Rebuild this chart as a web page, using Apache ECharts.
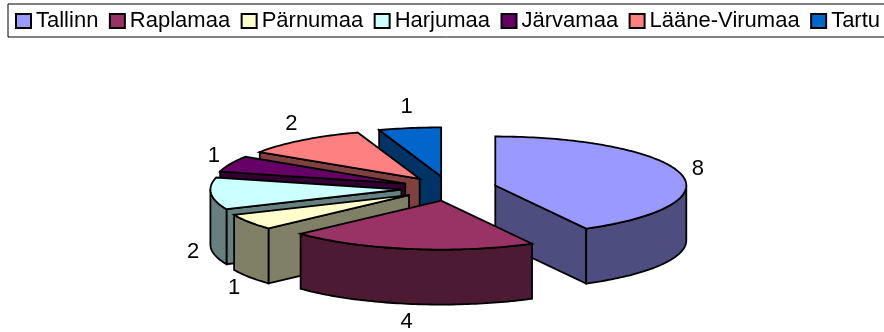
<!DOCTYPE html>
<html>
<head>
<meta charset="utf-8">
<style>
html, body { margin: 0; padding: 0; background: #fff; }
#main { width: 884px; height: 332px; }
</style>
<script src="https://cdn.jsdelivr.net/npm/echarts@6/dist/echarts.min.js"></script>
</head>
<body>
<div id="main"></div>
<script>
var categories = ['Tallinn', 'Raplamaa', 'Pärnumaa', 'Harjumaa', 'Järvamaa', 'Lääne-Virumaa', 'Tartu'];
var values = [8, 4, 1, 2, 1, 2, 1];
var topColors = ['#9999ff', '#993366', '#ffffcc', '#ccffff', '#660066', '#ff8080', '#0066cc'];
var wallColors = ['#4d4d80', '#4d1a33', '#808066', '#668080', '#330033', '#804040', '#003366'];

// tilted pie: ellipse radii, wall height and how far slices are pulled out
var cx = 449, cy = 188.5, rx = 191, ry = 49, depth = 55, explode = 0.25;
var labelRx = 209, labelRyBack = 72, labelRyFront = 66;
var font = '"Liberation Sans", Arial, sans-serif';

var total = values.reduce(function (a, b) { return a + b; }, 0);
var slices = [];
var sum = 0;
values.forEach(function (v) {
    var start = sum / total * Math.PI * 2;
    sum += v;
    var end = sum / total * Math.PI * 2;
    var mid = (start + end) / 2;
    slices.push({
        start: start,
        end: end,
        mid: mid,
        x: cx + Math.sin(mid) * rx * explode,
        y: cy - Math.cos(mid) * ry * explode
    });
});

// back slices get painted first
var order = slices.map(function (s, i) { return i; }).sort(function (a, b) {
    return slices[a].y - slices[b].y;
});

function rimPoint(s, angle, drop) {
    return [s.x + Math.sin(angle) * rx, s.y - Math.cos(angle) * ry + (drop || 0)];
}

function arcPoints(s, from, to, drop) {
    var pts = [];
    var steps = Math.max(2, Math.ceil((to - from) / 0.02));
    for (var i = 0; i <= steps; i++) {
        pts.push(rimPoint(s, from + (to - from) * i / steps, drop));
    }
    return pts;
}

function poly(points, fill) {
    return {
        type: 'polygon',
        shape: { points: points },
        style: { fill: fill, stroke: '#000', lineWidth: 1.8, lineJoin: 'miter' },
        silent: true
    };
}

function radialWall(s, angle, fill) {
    var p = rimPoint(s, angle);
    return poly([[s.x, s.y], p, [p[0], p[1] + depth], [s.x, s.y + depth]], fill);
}

function renderSlice(i, params, api) {
    var s = slices[i];
    var kids = [];
    // cut faces, only those turned to the viewer
    if (Math.sin(s.start) < -0.001) kids.push(radialWall(s, s.start, wallColors[i]));
    if (Math.sin(s.end) > 0.001) kids.push(radialWall(s, s.end, wallColors[i]));
    // outer wall, front half of the ellipse only
    var from = Math.max(s.start, Math.PI / 2);
    var to = Math.min(s.end, Math.PI * 1.5);
    if (to > from) {
        var upper = arcPoints(s, from, to, 0);
        var lower = arcPoints(s, from, to, depth).reverse();
        kids.push(poly(upper.concat(lower), wallColors[i]));
    }
    // top face
    kids.push(poly([[s.x, s.y]].concat(arcPoints(s, s.start, s.end, 0)), topColors[i]));
    // value label, pushed under the wall on the front half
    var front = Math.cos(s.mid) < 0;
    kids.push({
        type: 'text',
        silent: true,
        z2: 100,
        style: {
            x: s.x + Math.sin(s.mid) * labelRx,
            y: s.y - Math.cos(s.mid) * (front ? labelRyFront : labelRyBack) + (front ? depth : 0) + 1.5,
            text: String(api.value(0)),
            fill: '#000',
            font: '22px ' + font,
            align: 'center',
            verticalAlign: 'middle'
        }
    });
    return { type: 'group', children: kids };
}

var series = categories.map(function (name, i) {
    return {
        type: 'custom',
        name: name,
        coordinateSystem: 'none',
        silent: true,
        animation: false,
        z: 2 + order.indexOf(i),
        itemStyle: { color: topColors[i] },
        data: [[values[i]]],
        renderItem: function (params, api) { return renderSlice(i, params, api); }
    };
});

var option = {
    animation: false,
    legend: {
        data: categories.map(function (name) { return { name: name, icon: 'rect' }; }),
        left: 8,
        top: 4,
        width: 900,
        padding: [6, 12, 5, 7],
        itemGap: 10.5,
        itemWidth: 15,
        itemHeight: 14,
        selectedMode: false,
        borderColor: '#000',
        borderWidth: 1,
        backgroundColor: '#fff',
        itemStyle: { borderColor: '#000', borderWidth: 2 },
        textStyle: { color: '#000', fontFamily: font, fontSize: 22 }
    },
    series: series
};

var myChart = echarts.init(document.getElementById('main'));
myChart.setOption(option);
</script>
</body>
</html>
